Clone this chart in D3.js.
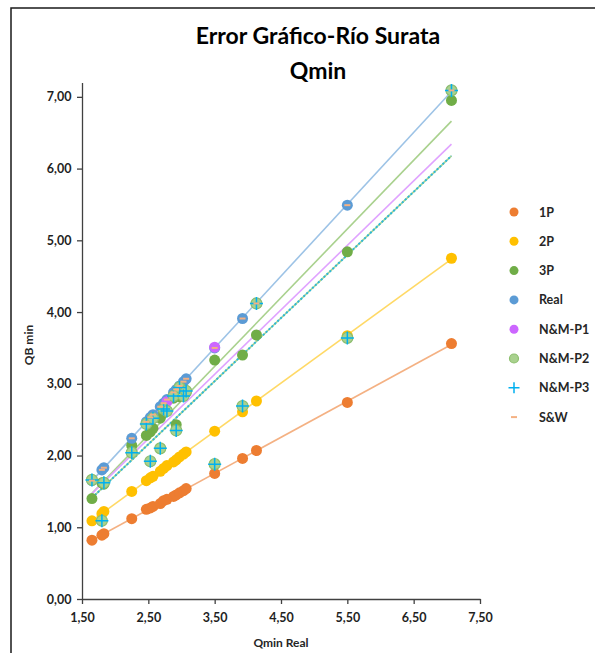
<!DOCTYPE html>
<html>
<head>
<meta charset="utf-8">
<script src="https://cdn.jsdelivr.net/npm/d3@7"></script>
<style>
  body { margin: 0; background: #fff; }
  text { font-family: Lato, "Open Sans", sans-serif; font-weight: bold; fill: #262626; }
</style>
</head>
<body>
<div id="chart"></div>
<script>
// Qmin Real (x) and each method's value (y)
const qReal = [1.65, 1.80, 1.83, 2.25, 2.47, 2.53, 2.57, 2.68, 2.73, 2.78, 2.88, 2.92, 2.97, 3.03, 3.07, 3.50, 3.92, 4.13, 5.50, 7.07];
const p1 = [0.82, 0.89, 0.91, 1.12, 1.25, 1.27, 1.29, 1.33, 1.37, 1.39, 1.43, 1.45, 1.48, 1.51, 1.54, 1.75, 1.96, 2.07, 2.74, 3.56];
const p2 = [1.09, 1.19, 1.22, 1.50, 1.65, 1.69, 1.71, 1.78, 1.82, 1.86, 1.91, 1.94, 1.98, 2.02, 2.05, 2.34, 2.61, 2.76, 3.67, 4.75];
const p3 = [1.40, 1.62, 1.60, 2.14, 2.28, 2.33, 2.38, 2.52, 2.60, 2.62, 2.80, 2.43, 2.82, 2.86, 2.88, 3.33, 3.40, 3.68, 4.84, 6.95];
const real = [1.65, 1.80, 1.83, 2.24, 2.47, 2.53, 2.57, 2.68, 2.73, 2.78, 2.88, 2.92, 2.97, 3.03, 3.07, 3.50, 3.91, 4.12, 5.49, 7.09];
const nm1 = [1.66, 1.09, 1.62, 2.04, 2.44, 1.92, 2.52, 2.10, 2.65, 2.75, 2.83, 2.35, 2.95, 2.83, 2.90, 3.51, 2.69, 4.12, 3.64, 7.09];
const nm2 = [1.66, 1.09, 1.62, 2.04, 2.44, 1.92, 2.52, 2.10, 2.65, 2.62, 2.83, 2.35, 2.95, 2.83, 2.90, 1.88, 2.69, 4.12, 3.64, 7.09];
const nm3 = [1.66, 1.09, 1.62, 2.04, 2.44, 1.92, 2.52, 2.10, 2.65, 2.62, 2.83, 2.35, 2.95, 2.83, 2.90, 1.88, 2.69, 4.12, 3.64, 7.09];
const sw = [1.65, 1.80, 1.83, 2.24, 2.47, 2.53, 2.57, 2.68, 2.73, 2.78, 2.88, 2.92, 2.97, 3.03, 3.07, 3.50, 3.91, 4.12, 5.49, 7.09];

const seriesNames = ["1P", "2P", "3P", "Real", "N&M-P1", "N&M-P2", "N&M-P3", "S&W"];
const xTicks = [1.5, 2.5, 3.5, 4.5, 5.5, 6.5, 7.5];
const yTicks = [0, 1, 2, 3, 4, 5, 6, 7];

const series = [
  { name: seriesNames[0], values: p1, color: "#ED7D31", trend: "#F4B183", marker: "circle" },
  { name: seriesNames[1], values: p2, color: "#FFC000", trend: "#FFD966", marker: "circle" },
  { name: seriesNames[2], values: p3, color: "#70AD47", trend: "#A9D18E", marker: "circle" },
  { name: seriesNames[3], values: real, color: "#5B9BD5", trend: "#9DC3E6", marker: "circle" },
  { name: seriesNames[4], values: nm1, color: "#CC66FF", trend: "#E0A3FF", marker: "circle" },
  { name: seriesNames[5], values: nm2, color: "#A9D18E", trend: "#A9D18E", marker: "ring" },
  { name: seriesNames[6], values: nm3, color: "#00B0F0", trend: "#2EB8D8", marker: "plus", dash: "2,2" },
  { name: seriesNames[7], values: sw, color: "#F4B183", trend: null, marker: "dash" }
];

const W = 595, H = 653;
const svg = d3.select("#chart").append("svg").attr("width", W).attr("height", H);

// chart area border
svg.append("rect").attr("x", 11).attr("y", 8).attr("width", 620).attr("height", 680)
  .attr("fill", "none").attr("stroke", "#1a1a1a").attr("stroke-width", 1.5);

svg.append("text").attr("x", 318).attr("y", 44).attr("text-anchor", "middle")
  .attr("font-size", 23).style("fill", "#000").text("Error Gráfico-Río Surata");
svg.append("text").attr("x", 318).attr("y", 79).attr("text-anchor", "middle")
  .attr("font-size", 23).style("fill", "#000").text("Qmin");

const x = d3.scaleLinear().domain([1.5, 7.5]).range([82, 480]);
const y = d3.scaleLinear().domain([0, 7.2]).range([599, 82.5]);
const fmt = v => d3.format(".2f")(v).replace(".", ",");

const gx = svg.append("g").attr("transform", "translate(0,599)")
  .call(d3.axisBottom(x).tickValues(xTicks).tickFormat(fmt).tickSize(5).tickSizeOuter(0));
const gy = svg.append("g").attr("transform", "translate(82,0)")
  .call(d3.axisLeft(y).tickValues(yTicks).tickFormat(fmt).tickSize(5).tickSizeOuter(0));
[gx, gy].forEach(g => {
  g.selectAll("path, line").attr("stroke", "#404040").attr("stroke-width", 1.3);
  g.selectAll("text").attr("font-size", 12.5).style("font-family", "Lato, sans-serif").style("font-weight", "bold").style("fill", "#1f1f1f");
});
gx.selectAll("text").attr("dy", "1.2em");
gy.selectAll("text").attr("dx", "-0.2em");

svg.append("text").attr("x", 281).attr("y", 647).attr("text-anchor", "middle")
  .attr("font-size", 12).text("Qmin Real");
svg.append("text").attr("transform", "translate(33,345) rotate(-90)").attr("text-anchor", "middle")
  .attr("font-size", 12).text("QB min");

// linear trendlines
function fit(xs, ys) {
  const mx = d3.mean(xs), my = d3.mean(ys);
  const sxy = d3.sum(xs, (v, i) => (v - mx) * (ys[i] - my));
  const sxx = d3.sum(xs, v => (v - mx) * (v - mx));
  const b = sxy / sxx;
  return v => my + b * (v - mx);
}
const [xMin, xMax] = d3.extent(qReal);
series.forEach(s => {
  if (!s.trend) return;
  const f = fit(qReal, s.values);
  svg.append("line")
    .attr("x1", x(xMin)).attr("y1", y(f(xMin)))
    .attr("x2", x(xMax)).attr("y2", y(f(xMax)))
    .attr("stroke", s.trend).attr("stroke-width", s.dash ? 2 : 1.6)
    .attr("stroke-dasharray", s.dash || null);
});

function drawMarker(g, s, cx, cy, r) {
  if (s.marker === "circle") {
    g.append("circle").attr("cx", cx).attr("cy", cy).attr("r", r).attr("fill", s.color);
  } else if (s.marker === "ring") {
    g.append("circle").attr("cx", cx).attr("cy", cy).attr("r", r).attr("fill", s.color)
      .attr("stroke", "#8DBF6E").attr("stroke-width", 1.2);
  } else if (s.marker === "plus") {
    g.append("path").attr("d", `M${cx - r - 1},${cy}H${cx + r + 1}M${cx},${cy - r - 1}V${cy + r + 1}`)
      .attr("stroke", s.color).attr("stroke-width", 1.5);
  } else {
    g.append("path").attr("d", `M${cx - 3},${cy}H${cx + 3}`)
      .attr("stroke", s.color).attr("stroke-width", 2);
  }
}

series.forEach(s => {
  const g = svg.append("g");
  s.values.forEach((v, i) => drawMarker(g, s, x(qReal[i]), y(v), 5.5));
});

// legend
const legend = svg.append("g");
series.forEach((s, i) => {
  const ly = 212 + i * 29.3;
  drawMarker(legend, s, 514, ly, 4.5);
  legend.append("text").attr("x", 539).attr("y", ly + 4.5).attr("font-size", 12.5).text(s.name);
});
</script>
</body>
</html>
